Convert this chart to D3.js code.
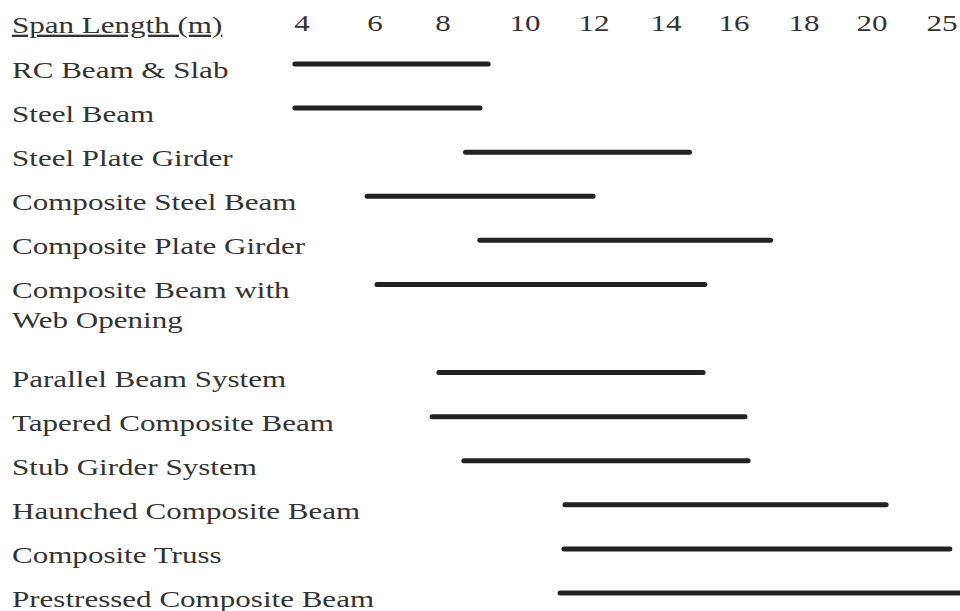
<!DOCTYPE html>
<html>
<head>
<meta charset="utf-8">
<script src="https://cdn.jsdelivr.net/npm/d3@7"></script>
<style>
  body { margin: 0; background: #fff; }
  svg { display: block; }
  text { font-family: "Liberation Serif", "Times New Roman", serif; fill: #333; }
</style>
</head>
<body>
<div id="chart"></div>
<script>
// span ranges (metres)
const systems = [
  "RC Beam & Slab",
  "Steel Beam",
  "Steel Plate Girder",
  "Composite Steel Beam",
  "Composite Plate Girder",
  "Composite Beam with\nWeb Opening",
  "Parallel Beam System",
  "Tapered Composite Beam",
  "Stub Girder System",
  "Haunched Composite Beam",
  "Composite Truss",
  "Prestressed Composite Beam"
];
const spanMin = [3.75, 3.75, 8.5, 5.73, 8.85, 6.0, 7.82, 7.62, 8.46, 11.1, 11.07, 10.96];
const spanMax = [9.15, 8.95, 14.75, 12.03, 17.1, 15.2, 15.15, 16.37, 16.46, 21.15, 25.7, 26.4];
// row slot of each system (the two-line label takes an extra slot)
const rowSlot = [0, 1, 2, 3, 4, 5, 7, 8, 9, 10, 11, 12];
const tickValues = [4, 6, 8, 10, 12, 14, 16, 18, 20, 25];
const axisTitle = "Span Length (m)";

const width = 960, height = 611;
const stretch = 1.35; // scan is wider than the type
const fontSize = 23;

const data = systems.map((name, i) => ({
  name: name,
  min: spanMin[i],
  max: spanMax[i],
  slot: rowSlot[i]
}));

const svg = d3.select("#chart")
  .append("svg")
  .attr("width", width)
  .attr("height", height);

// the printed axis isn't linear (20 -> 25 gets one step), so map piecewise
const x = d3.scaleLinear()
  .domain(tickValues)
  .range([302, 375, 443, 525, 594, 666, 734, 804, 872, 942]);

const y = d3.scaleLinear()
  .domain([0, 12])
  .range([64, 593]);

// header row
svg.append("text")
  .attr("transform", `translate(12, 33) scale(${stretch}, 1)`)
  .style("font-size", fontSize + "px")
  .style("text-decoration", "underline")
  .text(axisTitle);

svg.append("g")
  .selectAll("text")
  .data(tickValues)
  .join("text")
  .attr("transform", d => `translate(${x(d)}, 31) scale(${stretch}, 1)`)
  .attr("text-anchor", "middle")
  .style("font-size", fontSize + "px")
  .text(d => d);

// system labels
svg.append("g")
  .selectAll("text")
  .data(data)
  .join("text")
  .attr("transform", d => `translate(12, ${y(d.slot) + 14}) scale(${stretch}, 1)`)
  .style("font-size", fontSize + "px")
  .each(function (d) {
    const lines = d.name.split("\n");
    d3.select(this)
      .selectAll("tspan")
      .data(lines)
      .join("tspan")
      .attr("x", 0)
      .attr("dy", (l, i) => (i === 0 ? 0 : y(1) - y(0) - 14))
      .text(l => l);
  });

// span bars
svg.append("g")
  .selectAll("line")
  .data(data)
  .join("line")
  .attr("x1", d => x(d.min) + 2)
  .attr("x2", d => x(d.max) - 2)
  .attr("y1", d => y(d.slot))
  .attr("y2", d => y(d.slot))
  .attr("stroke", "#222")
  .attr("stroke-width", 5)
  .attr("stroke-linecap", "round");
</script>
</body>
</html>
